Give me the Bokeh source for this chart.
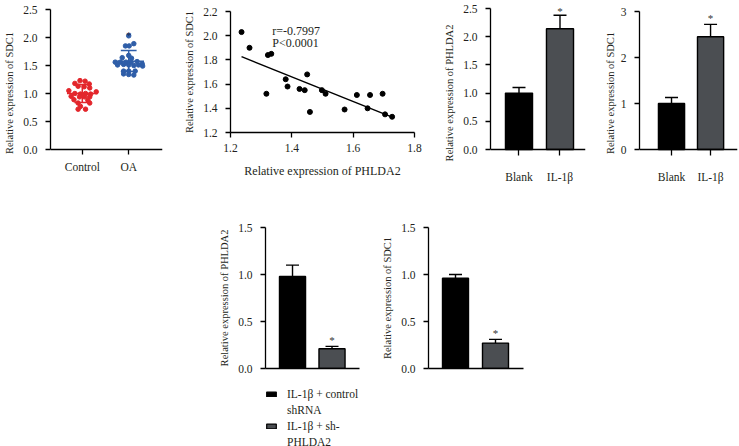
from bokeh.plotting import figure
from bokeh.layouts import column, row, Spacer
from bokeh.models import (FixedTicker, Whisker, ColumnDataSource, Legend, LegendItem,
                          TeeHead, Range1d, PrintfTickFormatter, LinearAxis)
from bokeh.core.properties import value
from bokeh.embed import file_html
from bokeh.resources import INLINE

FONT = "Liberation Serif"
TXT = "#231f20"

# ---------------- data ----------------
# Panel A: SDC1 in Control vs OA (scatter dot plot)
groups_a = ["Control", "OA"]
control_vals = [1.23, 1.22, 1.18, 1.17, 1.13, 1.12, 1.10, 1.05, 1.03, 1.00, 0.99, 1.00,
                0.99, 0.95, 0.94, 0.94, 0.94, 0.89, 0.88, 0.83, 0.83, 0.77, 0.72, 0.72]
control_jit = [-0.05, 0.06, -0.16, 0.15, -0.09, 0.04, 0.16, -0.29, 0.30, -0.16, -0.04, 0.07,
               0.18, -0.24, -0.06, 0.05, 0.16, -0.18, 0.12, -0.09, 0.16, -0.04, -0.09, 0.07]
oa_vals = [2.03, 1.85, 1.85, 1.89, 1.68, 1.64, 1.63, 1.56, 1.56, 1.56, 1.56, 1.57, 1.53,
           1.51, 1.52, 1.51, 1.50, 1.51, 1.49, 1.40, 1.40, 1.40, 1.35, 1.34, 1.33]
oa_jit = [0.0, -0.07, 0.01, 0.11, 0.0, -0.14, 0.06, -0.29, -0.18, -0.06, 0.05, 0.18, 0.29,
          -0.24, -0.11, 0.0, 0.11, 0.21, 0.30, -0.11, 0.0, 0.14, -0.11, 0.0, 0.11]
mean_a = [1.00, 1.575]
sd_lo_a = [0.84, 1.395]
sd_hi_a = [1.16, 1.77]
star_a = 2.04

# Panel B: correlation PHLDA2 vs SDC1
phlda2_x = [1.236, 1.262, 1.322, 1.333, 1.317, 1.380, 1.386, 1.425, 1.442, 1.450,
            1.459, 1.498, 1.510, 1.572, 1.612, 1.647, 1.655, 1.696, 1.704, 1.727]
sdc1_y = [2.03, 1.90, 1.84, 1.85, 1.52, 1.64, 1.58, 1.56, 1.55, 1.68,
          1.37, 1.55, 1.52, 1.39, 1.51, 1.40, 1.51, 1.52, 1.35, 1.33]
fit_x = [1.236, 1.721]
fit_y = [1.827, 1.333]
stats_text = ["r=-0.7997", "P<0.0001"]
stats_y = [2.10, 2.00]

# Panels C/D: Blank vs IL-1β
cats_cd = ["Blank", "IL-1β"]
phlda2_c = [1.00, 2.14]
phlda2_c_err = [1.10, 2.38]
phlda2_c_star = [2.45]
sdc1_d = [1.00, 2.45]
sdc1_d_err = [1.13, 2.72]
sdc1_d_star = [2.86]

# Panels E/F: IL-1β + control shRNA vs IL-1β + sh-PHLDA2
legend_lines = [["IL-1β + control", "shRNA"], ["IL-1β + sh-", "PHLDA2"]]
phlda2_e = [0.98, 0.21]
phlda2_e_err = [1.10, 0.235]
phlda2_e_star = [0.30]
sdc1_f = [0.96, 0.27]
sdc1_f_err = [1.00, 0.31]
sdc1_f_star = [0.38]

BAR_COLORS = ["#000000", "#4b4e52"]
RED = "#e3262b"
BLUE = "#2f5ea8"

TOP_H = 185


def span(v0, p0, v1, p1, lo, hi):
    """Range (start, end) so that value v0 sits at pixel p0 and v1 at p1,
    for a frame running from pixel lo to pixel hi (either axis direction)."""
    k = (p1 - p0) / (v1 - v0)
    a = v0 + (lo - p0) / k
    b = v0 + (hi - p0) / k
    return (min(a, b), max(a, b))


def style_axis(ax, tick_out=5, standoff=8):
    ax.axis_line_color = "black"
    ax.axis_line_width = 1.3
    ax.major_tick_line_color = "black"
    ax.major_tick_line_width = 1.3
    ax.major_tick_in = 0
    ax.major_tick_out = tick_out
    ax.minor_tick_line_color = None
    ax.major_label_standoff = standoff
    ax.major_label_text_font = FONT
    ax.major_label_text_font_size = "11.5px"
    ax.major_label_text_color = TXT
    ax.axis_label_text_font = FONT
    ax.axis_label_text_font_size = "10.5px"
    ax.axis_label_text_font_style = "normal"
    ax.axis_label_text_color = TXT
    ax.axis_label_standoff = 5


def make_fig(w, h, bl, br, bt, bb, xr, yr, x_loc="below", y_loc="left"):
    p = figure(width=w, height=h, x_range=Range1d(*xr), y_range=Range1d(*yr),
               output_backend="svg", toolbar_location=None,
               x_axis_location=x_loc, y_axis_location=y_loc,
               min_border_left=bl, min_border_right=br, min_border_top=bt, min_border_bottom=bb)
    p.outline_line_color = None
    p.xgrid.visible = False
    p.ygrid.visible = False
    p.background_fill_color = "white"
    p.border_fill_color = "white"
    for ax in p.yaxis:
        style_axis(ax)
    for ax in p.xaxis:
        style_axis(ax, tick_out=5, standoff=6)
    return p


def fixed_x_axis(p, loc, ticks, bounds):
    ax = LinearAxis(fixed_location=loc)
    style_axis(ax, tick_out=5, standoff=6)
    ax.ticker = FixedTicker(ticks=ticks)
    ax.bounds = bounds
    p.add_layout(ax, "below")
    return ax


def bar_panel(p, vals, errs, star, ylabel, yticks, fmt, width=0.66):
    src = ColumnDataSource(dict(x=[1, 2], top=vals, err=errs, color=BAR_COLORS))
    p.vbar(x="x", top="top", bottom=0, width=width, source=src,
           fill_color="color", line_color="black", line_width=1.4)
    w = Whisker(base="x", upper="err", lower="top", source=src, dimension="height",
                line_width=1.4, line_color="black",
                upper_head=TeeHead(size=13, line_width=1.4, line_color="black"), lower_head=None)
    p.add_layout(w)
    p.text(x=[2], y=star, text=["*"], text_align="center", text_baseline="middle",
           text_font=value(FONT), text_font_size="11px", text_color="#333333")
    p.yaxis.ticker = FixedTicker(ticks=yticks)
    p.yaxis.formatter = PrintfTickFormatter(format=fmt)
    p.yaxis.axis_label = ylabel
    return src


# ---------------- Panel A ----------------
xrA = (0.315, 2.728)
pA = make_fig(180, TOP_H, 50, 18, 0, 0, xrA, span(0, 149, 2.5, 9, 0, TOP_H), x_loc=None)
pA.scatter([1 + j for j in control_jit], control_vals, size=4.5, color=RED)
pA.scatter([2 + j for j in oa_jit], oa_vals, size=4.5, color=BLUE)
cols = [RED, BLUE]
for i in range(2):
    xc = i + 1
    pA.segment(x0=[xc - 0.33], y0=[mean_a[i]], x1=[xc + 0.33], y1=[mean_a[i]], line_color=cols[i], line_width=1.5)
    pA.segment(x0=[xc], y0=[sd_lo_a[i]], x1=[xc], y1=[sd_hi_a[i]], line_color=cols[i], line_width=1.5)
    pA.segment(x0=[xc - 0.17, xc - 0.17], y0=[sd_lo_a[i], sd_hi_a[i]], x1=[xc + 0.17, xc + 0.17],
               y1=[sd_lo_a[i], sd_hi_a[i]], line_color=cols[i], line_width=1.5)
pA.text(x=[2], y=[star_a], text=["*"], text_align="center", text_baseline="middle",
        text_font=value(FONT), text_font_size="11px", text_color="#1d2a50")
pA.yaxis.ticker = FixedTicker(ticks=[0, 0.5, 1.0, 1.5, 2.0, 2.5])
pA.yaxis.formatter = PrintfTickFormatter(format="%.1f")
pA.yaxis.bounds = (0, 2.5)
pA.yaxis.axis_label = "Relative expression of SDC1"
xa = fixed_x_axis(pA, 0, [1, 2], xrA)
xa.major_label_overrides = {1: groups_a[0], 2: groups_a[1]}

# ---------------- Panel B ----------------
# figure spans page x 180..440; both axes fixed at 1.2 (frame covers whole figure)
pB = make_fig(260, TOP_H, 0, 0, 0, 0, span(1.2, 230, 1.8, 414, 180, 440),
              span(1.2, 132, 2.2, 11, 0, TOP_H), x_loc=None, y_loc=None)
xb = fixed_x_axis(pB, 1.2, [1.2, 1.4, 1.6, 1.8], (1.2, 1.8))
xb.formatter = PrintfTickFormatter(format="%.1f")
xb.axis_label = "Relative expression of PHLDA2"
xb.axis_label_text_font_size = "12px"
xb.axis_label_standoff = 9
yb = LinearAxis(fixed_location=1.2)
style_axis(yb)
yb.ticker = FixedTicker(ticks=[1.2, 1.4, 1.6, 1.8, 2.0, 2.2])
yb.formatter = PrintfTickFormatter(format="%.1f")
yb.bounds = (1.2, 2.2)
yb.axis_label = "Relative expression of SDC1"
pB.add_layout(yb, "left")
pB.scatter(phlda2_x, sdc1_y, size=5, color="black")
pB.line(fit_x, fit_y, line_color="black", line_width=1.4)
pB.text(x=[1.336, 1.336], y=stats_y, text=stats_text, text_align="left", text_baseline="top",
        text_font=value(FONT), text_font_size="12px", text_color=TXT)

# ---------------- Panel C ----------------
xrC = (0.305, 2.622)
pC = make_fig(160, TOP_H, 50, 15, 0, 0, xrC, span(0, 149, 2.5, 8, 0, TOP_H), x_loc=None)
bar_panel(pC, phlda2_c, phlda2_c_err, phlda2_c_star, "Relative expression of PHLDA2",
          [0, 0.5, 1.0, 1.5, 2.0, 2.5], "%.1f", width=0.66)
pC.yaxis.bounds = (0, 2.5)
xc_ax = fixed_x_axis(pC, 0, [1, 2], xrC)
xc_ax.major_label_overrides = {1: cats_cd[0], 2: cats_cd[1]}
xc_ax.major_tick_out = 6
xc_ax.major_label_standoff = 15

# ---------------- Panel D ----------------
xrD = (0.18, 2.69)
pD = make_fig(139, TOP_H, 39, 2, 0, 0, xrD, span(0, 149, 3, 11, 0, TOP_H), x_loc=None)
bar_panel(pD, sdc1_d, sdc1_d_err, sdc1_d_star, "Relative expression of SDC1",
          [0, 1, 2, 3], "%d", width=0.67)
pD.yaxis.bounds = (0, 3)
pD.yaxis.axis_label_standoff = 2
xd_ax = fixed_x_axis(pD, 0, [1, 2], xrD)
xd_ax.major_label_overrides = {1: cats_cd[0], 2: cats_cd[1]}
xd_ax.major_tick_out = 6
xd_ax.major_label_standoff = 15

# ---------------- Panel E ----------------
BOT_H = 195
pE = make_fig(165, BOT_H, 55, 16, 227 - TOP_H, BOT_H - (368 - TOP_H), (0.316, 2.696), (0, 1.5))
srcE = bar_panel(pE, phlda2_e, phlda2_e_err, phlda2_e_star, "Relative expression of PHLDA2",
                 [0, 0.5, 1.0, 1.5], "%.1f", width=0.66)

# ---------------- Panel F ----------------
pF = make_fig(165, BOT_H, 53, 17, 227 - TOP_H, BOT_H - (368 - TOP_H), (0.325, 2.7), (0, 1.5))
bar_panel(pF, sdc1_f, sdc1_f_err, sdc1_f_star, "Relative expression of SDC1",
          [0, 0.5, 1.0, 1.5], "%.1f", width=0.65)

for p in (pE, pF):
    p.xaxis.ticker = FixedTicker(ticks=[])
    p.xaxis.major_tick_out = 0
    p.xaxis.major_label_text_font_size = "0px"

# ---------------- Legend (below panel E) ----------------
LEG_H = 446 - TOP_H - BOT_H
pL = figure(width=170, height=LEG_H, x_range=Range1d(0, 1), y_range=Range1d(0, 1),
            output_backend="svg", toolbar_location=None, x_axis_location=None,
            y_axis_location=None, min_border=0)
pL.outline_line_color = None
pL.xgrid.visible = False
pL.ygrid.visible = False
leg_bars = pL.vbar(x="x", top="top", bottom=0, width=0.5, source=srcE,
                   fill_color="color", line_color="black", line_width=1.2)
leg_bars.visible = False
leg_blank = pL.vbar(x="x", top="top", bottom=0, width=0.5, source=srcE,
                    fill_alpha=0, line_alpha=0)
leg_blank.visible = False
items = []
for i, lines in enumerate(legend_lines):
    items.append(LegendItem(label=lines[0], renderers=[leg_bars], index=i))
    items.append(LegendItem(label=lines[1], renderers=[leg_blank], index=i))
legend = Legend(items=items, location=(0, -2), orientation="vertical",
                border_line_color=None, background_fill_alpha=0,
                label_text_font=FONT, label_text_font_size="11.5px", label_text_color=TXT,
                glyph_width=12, glyph_height=6, label_height=13, label_standoff=10,
                spacing=3, padding=0, margin=0)
pL.add_layout(legend)

top = row(pA, pB, pC, pD)
bottom = row(Spacer(width=210, height=BOT_H), pE, pF)
leg_row = row(Spacer(width=265, height=LEG_H), pL)
layout = column(top, bottom, leg_row)

open("out.html", "w").write(file_html(layout, INLINE))
